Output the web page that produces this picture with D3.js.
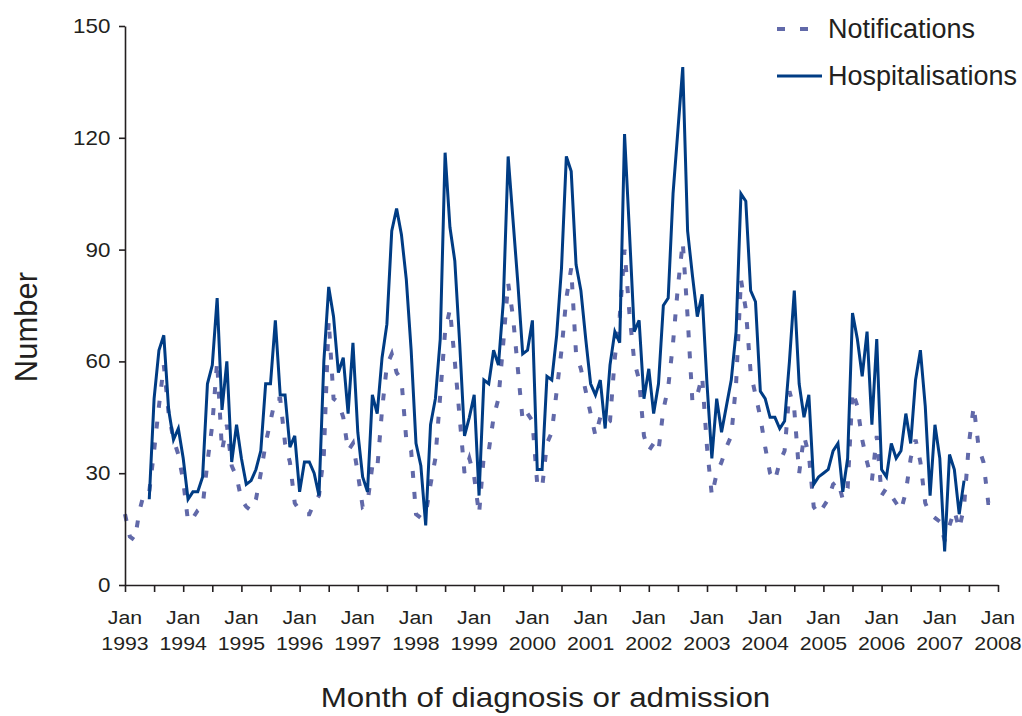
<!DOCTYPE html>
<html><head><meta charset="utf-8">
<script src="https://cdn.jsdelivr.net/npm/d3@7"></script>
<style>body{margin:0;background:#fff}</style>
</head><body>
<svg id="chart" width="1022" height="716"></svg>
<script>
// ---- data ----
const tickYears = [1993,1994,1995,1996,1997,1998,1999,2000,2001,2002,2003,2004,2005,2006,2007,2008];
const yTicks = [0,30,60,90,120,150];
const seriesNames = ["Notifications","Hospitalisations"];

// monthly values Jan 1993 .. Dec 2007
const notifications = [
  19,13,12,20,25,25,36,48,59,46,39,35,
  28,17,18,20,21,33,43,60,36,43,32,29,
  23,21,20,23,30,38,44,50,50,38,33,22,
  20,19,19,22,24,35,71,50,49,45,36,38,
  30,21,22,32,31,47,59,62,57,55,39,36,
  19,18,19,27,34,51,68,74,60,45,30,34,
  29,19,35,36,45,50,65,81,72,58,44,46,
  44,27,26,38,41,52,63,77,85,62,58,52,
  46,40,45,43,44,61,72,90,73,60,55,40,
  36,38,36,47,53,65,80,92,72,49,51,56,
  37,24,30,33,37,40,54,82,74,57,51,45,
  37,30,28,33,36,52,47,30,40,35,21,19,
  21,23,27,28,23,26,52,48,39,33,28,40,
  24,26,24,22,20,25,34,39,33,22,19,18,
  17,12,16,20,15,21,38,48,37,33,22,22
];
const hospitalisations = [
  null,null,null,null,null,23,50,63,67,47,39,42,
  34,23,25,25,29,54,59,77,47,60,33,43,
  34,27,28,31,36,54,54,71,51,51,37,40,
  25,33,33,30,24,60,80,72,57,61,46,65,
  41,29,25,51,46,61,70,95,101,94,82,63,
  38,32,16,43,50,66,116,96,87,65,40,45,
  51,24,55,54,63,59,76,115,98,81,62,63,
  71,31,31,56,55,67,85,115,111,86,79,66,
  54,51,55,42,59,68,65,121,95,68,71,50,
  58,46,54,75,77,105,122,139,95,83,72,78,
  54,34,50,41,48,55,68,105,103,79,76,52,
  50,45,45,42,44,60,79,54,45,51,27,29,
  30,31,36,38,25,34,73,66,56,68,43,66,
  31,29,38,34,36,46,38,55,63,48,24,43,
  34,9,35,31,19,28,null,null,null,null,null,null
];

// ---- layout ----
const svg = d3.select("#chart");
const L = 125, R = 998, T = 26, B = 585;
const ink = "#231f20";
const notifColor = "#6169a9";
const hospColor = "#003c84";
const font = "'Liberation Sans', Arial, Helvetica, sans-serif";
const stretch = 1.12;

const nMonths = (tickYears[tickYears.length-1] - tickYears[0]) * 12;
const x = d3.scaleLinear().domain([0, nMonths]).range([L, R]);
const y = d3.scaleLinear().domain([0, 150]).range([B, T]);

// lines
const line = d3.line()
  .defined(d => d != null)
  .x((d, i) => x(i))
  .y(d => y(d));

svg.append("path").datum(notifications)
  .attr("fill", "none").attr("stroke", notifColor)
  .attr("stroke-width", 4).attr("stroke-dasharray", "7,14")
  .attr("d", line);

svg.append("path").datum(hospitalisations)
  .attr("fill", "none").attr("stroke", hospColor)
  .attr("stroke-width", 3).attr("stroke-linejoin", "miter")
  .attr("d", line);

// y axis
const yAxis = svg.append("g").attr("transform", `translate(${L},0)`)
  .call(d3.axisLeft(y).tickValues(yTicks).tickSize(6).tickSizeOuter(0).tickPadding(7));
yAxis.select(".domain").attr("stroke", ink).attr("stroke-width", 1.6);
yAxis.selectAll(".tick line").attr("stroke", ink).attr("stroke-width", 1.6);
yAxis.selectAll(".tick text").attr("fill", ink)
  .style("font-family", font).style("font-size", "20px")
  .attr("transform", `scale(${stretch},1)`);

// x axis
const xAxis = svg.append("g").attr("transform", `translate(0,${B})`)
  .call(d3.axisBottom(x).tickValues(d3.range(0, nMonths + 1, 6))
    .tickSize(7).tickSizeOuter(0).tickFormat(""));
xAxis.select(".domain").attr("stroke", ink).attr("stroke-width", 1.6);
xAxis.selectAll(".tick line").attr("stroke", ink).attr("stroke-width", 1.6);

const xl = svg.append("g");
tickYears.forEach((yr, k) => {
  const t = xl.append("text")
    .attr("transform", `translate(${x(k*12)},0) scale(${stretch},1)`)
    .attr("text-anchor", "middle").attr("fill", ink)
    .style("font-family", font).style("font-size", "19px");
  t.append("tspan").attr("x", 0).attr("y", 624).text("Jan");
  t.append("tspan").attr("x", 0).attr("y", 650).text(yr);
});

// axis titles
svg.append("text")
  .attr("transform", `translate(${(L+R)/2 - 16},707) scale(${stretch},1)`)
  .attr("text-anchor", "middle").attr("fill", ink)
  .style("font-family", font).style("font-size", "28px")
  .text("Month of diagnosis or admission");

svg.append("text")
  .attr("transform", `translate(37,327) rotate(-90)`)
  .attr("text-anchor", "middle").attr("fill", ink)
  .style("font-family", font).style("font-size", "31px")
  .text("Number");

// legend
const lg = svg.append("g");
const legendItems = [
  {name: seriesNames[0], color: notifColor, width: 4, dash: "8,15", y: 29},
  {name: seriesNames[1], color: hospColor, width: 3, dash: null, y: 76}
];
legendItems.forEach(it => {
  lg.append("line").attr("x1", 777).attr("x2", 822).attr("y1", it.y).attr("y2", it.y)
    .attr("stroke", it.color).attr("stroke-width", it.width)
    .attr("stroke-dasharray", it.dash);
  lg.append("text").attr("x", 828).attr("y", it.y + 9)
    .attr("fill", ink).style("font-family", font).style("font-size", "27px")
    .text(it.name);
});
</script>
</body></html>
